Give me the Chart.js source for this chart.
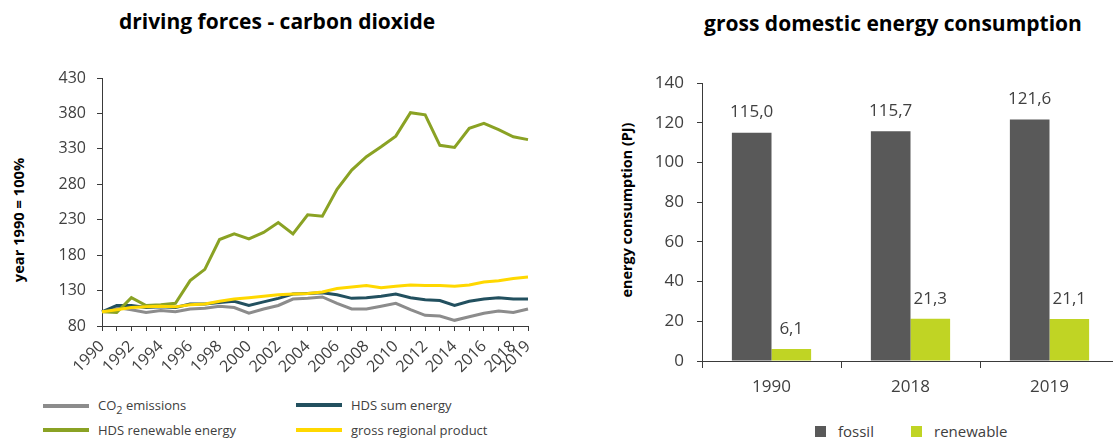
<!DOCTYPE html>
<html>
<head>
<meta charset="utf-8">
<script src="https://cdn.jsdelivr.net/npm/chart.js@4.4.1/dist/chart.umd.min.js"></script>
<style>
  html, body { margin: 0; padding: 0; background: #fff; }
  body { width: 1113px; height: 439px; overflow: hidden; position: relative; font-family: "Open Sans", sans-serif; color: #404040; }
  .box { position: absolute; }
  .title { position: absolute; font-weight: bold; color: #000; white-space: nowrap; transform: translateX(-50%); line-height: normal; }
  .ytitle { position: absolute; font-weight: bold; color: #000; white-space: nowrap; transform: translate(-50%, -50%) rotate(-90deg); }
  .leg { position: absolute; font-size: 13px; white-space: nowrap; display: flex; align-items: center; }
  .leg .line { display: inline-block; width: 46px; height: 4px; margin-right: 9px; }
  .leg .sq { display: inline-block; width: 11px; height: 11px; margin-right: 12px; }
</style>
</head>
<body>
<div class="title" style="left:277px; top:7px; font-size:21px;">driving forces - carbon dioxide</div>
<div class="title" style="left:893px; top:9px; font-size:21px;">gross domestic energy consumption</div>
<div class="ytitle" style="left:18px; top:220px; font-size:14.7px;">year 1990 = 100%</div>
<div class="ytitle" style="left:626px; top:210px; font-size:14.4px;">energy consumption (PJ)</div>

<div class="box" style="left:0; top:0; width:560px; height:395px;"><canvas id="lines"></canvas></div>
<div class="box" style="left:600px; top:0; width:530px; height:400px;"><canvas id="bars"></canvas></div>
<div id="legendLeft"></div>
<div id="legendRight"></div>

<script>
// ---- driving forces (index, 1990 = 100) ----
const years = [1990,1991,1992,1993,1994,1995,1996,1997,1998,1999,2000,2001,2002,2003,2004,
               2005,2006,2007,2008,2009,2010,2011,2012,2013,2014,2015,2016,2017,2018,2019];
const co2Emissions = [100,106,103,99,102,100,104,105,108,106,98,104,109,118,119,
                      121,112,104,104,108,112,103,95,94,88,93,98,101,99,104];
const hdsSumEnergy = [100,109,109,106,107,106,111,111,113,115,109,114,119,125,126,
                      127,124,119,120,122,125,120,117,116,109,115,118,120,118,118];
const hdsRenewable = [100,99,120,109,110,112,144,160,202,210,203,212,226,210,237,
                      235,273,300,319,333,348,381,378,335,332,359,366,357,347,343];
const grossRegionalProduct = [100,103,106,107,108,107,110,111,115,118,120,122,124,125,126,
                              128,133,135,137,134,136,138,137,137,136,138,142,144,147,149];
const yTicksLeft = [80,130,180,230,280,330,380,430];

// ---- gross domestic energy consumption (PJ) ----
const barYears = ['1990','2018','2019'];
const fossil = [115.0, 115.7, 121.6];
const renewable = [6.1, 21.3, 21.1];
const yTicksRight = [0,20,40,60,80,100,120,140];

const tickFont = { family: 'Open Sans', size: 16 };
const tickColor = '#404040';
const axisColor = '#3a3a3a';

const lineSeries = [
  { label: 'CO<sub>2</sub> emissions', data: co2Emissions, color: '#8c8c8c', order: 3 },
  { label: 'HDS sum energy', data: hdsSumEnergy, color: '#22505f', order: 2 },
  { label: 'HDS renewable energy', data: hdsRenewable, color: '#8aa224', order: 1 },
  { label: 'gross regional product', data: grossRegionalProduct, color: '#ffd800', order: 0 }
];

new Chart(document.getElementById('lines'), {
  type: 'line',
  data: {
    labels: years,
    datasets: lineSeries.map(s => ({
      label: s.label, data: s.data, borderColor: s.color, backgroundColor: s.color,
      borderWidth: 3, pointRadius: 0, tension: 0, order: s.order
    }))
  },
  options: {
    responsive: true, maintainAspectRatio: false, animation: false,
    layout: { padding: { top: 78, right: 32, left: 0, bottom: 0 } },
    plugins: { legend: { display: false }, tooltip: { enabled: false } },
    scales: {
      x: {
        grid: { drawOnChartArea: false, drawTicks: true, tickLength: 5, color: axisColor },
        border: { display: true, color: axisColor },
        ticks: {
          autoSkip: false, minRotation: 45, maxRotation: 45, padding: 6,
          font: tickFont, color: tickColor,
          callback: (v, i) => (years[i] % 2 === 0 || i === years.length - 1) ? String(years[i]) : ''
        },
        afterFit: s => { s.height = 69; }
      },
      y: {
        min: 80, max: 430,
        afterBuildTicks: s => { s.ticks = yTicksLeft.map(v => ({ value: v })); },
        grid: { drawOnChartArea: false, drawTicks: true, tickLength: 5, color: axisColor },
        border: { display: true, color: axisColor },
        ticks: { padding: 11, font: tickFont, color: tickColor },
        afterFit: s => { s.width = 102; }
      }
    }
  }
});

// value labels above the bars, decimal comma
const barValueLabels = {
  id: 'barValueLabels',
  afterDatasetsDraw(chart) {
    const ctx = chart.ctx;
    ctx.save();
    ctx.font = '17px "Open Sans"';
    ctx.fillStyle = '#404040';
    ctx.textAlign = 'center';
    ctx.textBaseline = 'middle';
    chart.data.datasets.forEach((ds, di) => {
      chart.getDatasetMeta(di).data.forEach((el, i) => {
        ctx.fillText(ds.data[i].toFixed(1).replace('.', ','), el.x, el.y - 20);
      });
    });
    ctx.restore();
  }
};

const barSeries = [
  { label: 'fossil', data: fossil, color: '#595959' },
  { label: 'renewable', data: renewable, color: '#c0d424' }
];

new Chart(document.getElementById('bars'), {
  type: 'bar',
  data: {
    labels: barYears,
    datasets: barSeries.map(s => ({
      label: s.label, data: s.data, backgroundColor: s.color, borderWidth: 0
    }))
  },
  options: {
    responsive: true, maintainAspectRatio: false, animation: false,
    categoryPercentage: 0.57, barPercentage: 1,
    layout: { padding: { top: 83, right: 11, left: 0, bottom: 0 } },
    plugins: { legend: { display: false }, tooltip: { enabled: false } },
    scales: {
      x: {
        grid: { drawOnChartArea: false, drawTicks: true, tickLength: 7, color: axisColor },
        border: { display: true, color: axisColor },
        ticks: { padding: 9, font: { family: 'Open Sans', size: 17 }, color: tickColor },
        afterFit: s => { s.height = 39; }
      },
      y: {
        min: 0, max: 140,
        afterBuildTicks: s => { s.ticks = yTicksRight.map(v => ({ value: v })); },
        grid: { drawOnChartArea: false, drawTicks: true, tickLength: 5, color: axisColor },
        border: { display: true, color: axisColor },
        ticks: { padding: 13, font: { family: 'Open Sans', size: 17 }, color: tickColor },
        afterFit: s => { s.width = 102; }
      }
    }
  },
  plugins: [barValueLabels]
});

// legends built from the series definitions
const legLeftPos = [[43, 396], [296, 396], [43, 421], [296, 421]];
lineSeries.forEach((s, i) => {
  const d = document.createElement('div');
  d.className = 'leg';
  d.style.left = legLeftPos[i][0] + 'px';
  d.style.top = legLeftPos[i][1] + 'px';
  d.innerHTML = '<span class="line" style="background:' + s.color + '"></span><span>' + s.label + '</span>';
  document.getElementById('legendLeft').appendChild(d);
});
const legRightPos = [[815, 421], [911, 421]];
barSeries.forEach((s, i) => {
  const d = document.createElement('div');
  d.className = 'leg';
  d.style.fontSize = '15px';
  d.style.left = legRightPos[i][0] + 'px';
  d.style.top = legRightPos[i][1] + 'px';
  d.innerHTML = '<span class="sq" style="background:' + s.color + '"></span><span>' + s.label + '</span>';
  document.getElementById('legendRight').appendChild(d);
});
</script>
</body>
</html>
